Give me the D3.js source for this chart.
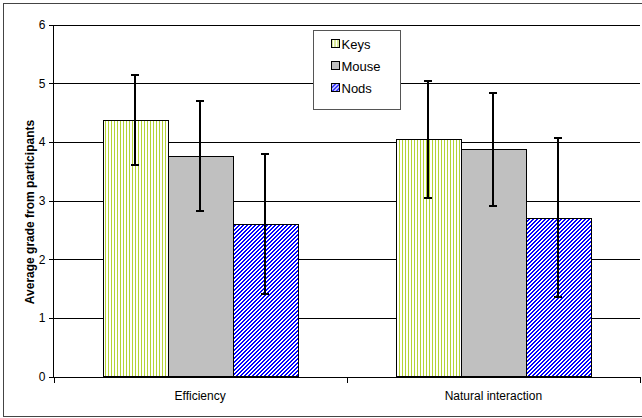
<!DOCTYPE html>
<html>
<head>
<meta charset="utf-8">
<script src="https://cdn.jsdelivr.net/npm/d3@7"></script>
<style>
html,body{margin:0;padding:0;background:#fff;}
svg{display:block;font-family:Arial,"Liberation Sans",sans-serif;}
</style>
</head>
<body>
<svg id="chart" width="642" height="418"></svg>
<script>
const categories = ["Efficiency", "Natural interaction"];
const seriesNames = ["Keys", "Mouse", "Nods"];
const keysMean = [4.37, 4.04];
const keysErr = [0.77, 1.00];
const mouseMean = [3.76, 3.87];
const mouseErr = [0.94, 0.96];
const nodsMean = [2.60, 2.71];
const nodsErr = [1.19, 1.36];
const yTicks = [0, 1, 2, 3, 4, 5, 6];
const yTitle = "Average grade from participants";

const means = [keysMean, mouseMean, nodsMean];
const errs = [keysErr, mouseErr, nodsErr];
const fills = ["url(#pKeys)", "#c0c0c0", "url(#pNods)"];

const svg = d3.select("#chart").attr("shape-rendering", "crispEdges");
const defs = svg.append("defs");

// Keys: vertical yellow-green stripes
const pk = defs.append("pattern").attr("id", "pKeys").attr("patternUnits", "userSpaceOnUse")
  .attr("width", 3).attr("height", 4);
pk.append("rect").attr("width", 3).attr("height", 4).attr("fill", "#fff");
pk.append("rect").attr("x", 0).attr("width", 1).attr("height", 4).attr("fill", "#b4d434");

// Nods: diagonal blue stripes (pixel pattern)
const pn = defs.append("pattern").attr("id", "pNods").attr("patternUnits", "userSpaceOnUse")
  .attr("width", 4).attr("height", 4);
pn.append("rect").attr("width", 4).attr("height", 4).attr("fill", "#fff");
const nodPix = [];
for (let r = 0; r < 4; r++) { nodPix.push([(3 - r) % 4, r]); nodPix.push([(4 - r) % 4, r]); }
pn.selectAll("rect.px").data(nodPix).join("rect").attr("class", "px")
  .attr("x", d => d[0]).attr("y", d => d[1]).attr("width", 1).attr("height", 1)
  .attr("fill", "#0000ff");

const pLeft = 53.5, pRight = 640, pTop = 24.5, pBottom = 376.5;

const x0 = d3.scaleBand().domain(categories).range([pLeft, pRight]).paddingInner(0).paddingOuter(0);
const x1 = d3.scaleBand().domain(seriesNames).range([49, x0.bandwidth() - 49]).padding(0);
const y = d3.scaleLinear().domain([0, 6]).range([pBottom, pTop]);

// outer border
svg.append("rect").attr("x", 3.5).attr("y", 3.5).attr("width", 650).attr("height", 413)
  .attr("fill", "none").attr("stroke", "#444").attr("stroke-width", 1);

// gridlines
svg.append("g").selectAll("line").data(yTicks.filter(d => d > 0)).join("line")
  .attr("x1", pLeft).attr("x2", pRight)
  .attr("y1", d => Math.round(y(d)) + 0.5).attr("y2", d => Math.round(y(d)) + 0.5)
  .attr("stroke", "#000").attr("stroke-width", 1);

// bars
const data = [];
categories.forEach((c, ci) => seriesNames.forEach((s, si) => {
  data.push({c, s, si, v: means[si][ci], e: errs[si][ci]});
}));

const g = svg.append("g");
g.selectAll("rect.bar").data(data).join("rect").attr("class", "bar")
  .attr("x", d => Math.round(x0(d.c) + x1(d.s)) + 0.5)
  .attr("y", d => Math.round(y(d.v)) + 0.5)
  .attr("width", Math.round(x1.bandwidth()))
  .attr("height", d => pBottom - Math.round(y(d.v)) - 0.5)
  .attr("fill", d => fills[d.si])
  .attr("stroke", "#000").attr("stroke-width", 1);

// error bars
const eb = g.selectAll("g.err").data(data).join("g").attr("class", "err");
const cx = d => Math.round(x0(d.c) + x1(d.s) + x1.bandwidth() / 2);
eb.append("line").attr("x1", cx).attr("x2", cx)
  .attr("y1", d => Math.round(y(d.v + d.e))).attr("y2", d => Math.round(y(d.v - d.e)))
  .attr("stroke", "#000").attr("stroke-width", 2);
eb.append("line").attr("x1", d => cx(d) - 4).attr("x2", d => cx(d) + 4)
  .attr("y1", d => Math.round(y(d.v + d.e))).attr("y2", d => Math.round(y(d.v + d.e)))
  .attr("stroke", "#000").attr("stroke-width", 2);
eb.append("line").attr("x1", d => cx(d) - 4).attr("x2", d => cx(d) + 4)
  .attr("y1", d => Math.round(y(d.v - d.e))).attr("y2", d => Math.round(y(d.v - d.e)))
  .attr("stroke", "#000").attr("stroke-width", 2);

// y axis
const yAxis = d3.axisLeft(y).tickValues(yTicks).tickSize(5).tickPadding(3).tickFormat(d3.format("d"));
const ya = svg.append("g").attr("transform", `translate(${pLeft},0)`).call(yAxis);
ya.select(".domain").attr("d", `M0,${pTop}V${pBottom}`).attr("stroke", "#000");
ya.selectAll(".tick line").attr("stroke", "#000");
ya.selectAll("text").attr("font-size", 12).attr("fill", "#000").attr("font-family", "Arial, 'Liberation Sans', sans-serif");

// x axis
const xa = svg.append("g").attr("transform", `translate(0,${pBottom})`);
xa.append("line").attr("x1", pLeft).attr("x2", pRight).attr("y1", 0.5).attr("y2", 0.5).attr("stroke", "#000");
const xTickPos = [pLeft, ...categories.map(c => x0(c) + x0.bandwidth())];
xa.selectAll("line.tk").data(xTickPos).join("line").attr("class", "tk")
  .attr("x1", d => Math.round(d) + 0.5).attr("x2", d => Math.round(d) + 0.5)
  .attr("y1", 0).attr("y2", 6).attr("stroke", "#000");
xa.selectAll("text").data(categories).join("text")
  .attr("x", d => x0(d) + x0.bandwidth() / 2).attr("y", 23)
  .attr("text-anchor", "middle").attr("font-size", 12).attr("fill", "#000")
  .text(d => d);

// y title
svg.append("text").attr("transform", `translate(34,212) rotate(-90)`)
  .attr("text-anchor", "middle").attr("font-size", 12).attr("font-weight", "bold")
  .attr("shape-rendering", "auto")
  .text(yTitle);

// legend
const lg = svg.append("g").attr("transform", "translate(313.5,30.5)");
lg.append("rect").attr("width", 87).attr("height", 79).attr("fill", "#fff")
  .attr("stroke", "#555").attr("stroke-width", 1);
const li = lg.selectAll("g.li").data(seriesNames).join("g").attr("class", "li")
  .attr("transform", (d, i) => `translate(18,${13 + i * 22})`);
li.append("rect").attr("x", 0).attr("y", -4).attr("width", 8).attr("height", 8)
  .attr("fill", (d, i) => fills[i]).attr("stroke", "#000").attr("stroke-width", 1);
li.append("text").attr("x", 10).attr("y", 5).attr("font-size", 13).text(d => d);
</script>
</body>
</html>
